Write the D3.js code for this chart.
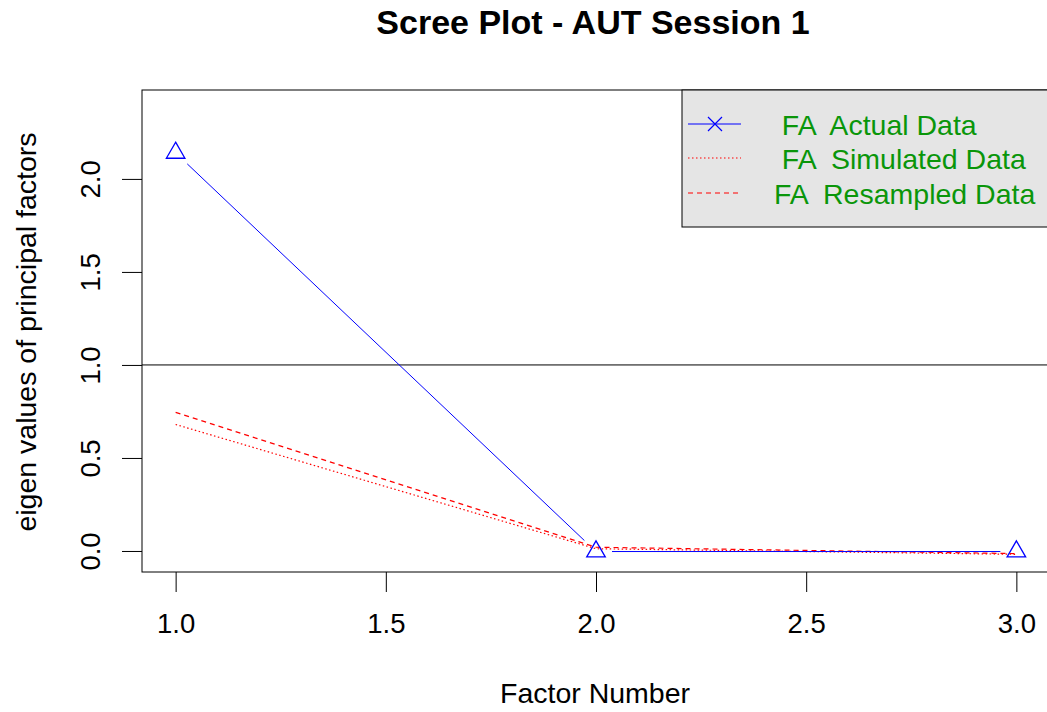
<!DOCTYPE html>
<html>
<head>
<meta charset="utf-8">
<script src="https://cdn.jsdelivr.net/npm/d3@7"></script>
<style>
  html, body { margin: 0; padding: 0; background: #fff; }
  svg { display: block; font-family: "Liberation Sans", Arial, sans-serif; }
</style>
</head>
<body>
<svg id="chart" width="1047" height="712"></svg>
<script>
// values
var factors = [1, 2, 3];
var actualData = [2.14, -0.003, -0.003];
var simulatedData = [0.68, 0.012, -0.018];
var resampledData = [0.745, 0.02, -0.014];
var xTicks = [1, 1.5, 2, 2.5, 3];
var yTicks = [0, 0.5, 1, 1.5, 2];
var legendLabels = ["  FA  Actual Data", "  FA  Simulated Data", " FA  Resampled Data"];

var svg = d3.select("#chart");
var plotL = 142, plotT = 90, plotR = 1050, plotB = 572;

var x = d3.scaleLinear().domain([0.92, 3.08]).range([plotL, plotR]);
var y = d3.scaleLinear().domain([-0.113, 2.478]).range([plotB, plotT]);

// title
svg.append("text")
  .attr("x", 593).attr("y", 34)
  .attr("text-anchor", "middle")
  .style("font-size", "34px").style("font-weight", "bold")
  .text("Scree Plot - AUT Session 1");

// axes
var xAxis = svg.append("g")
  .attr("transform", "translate(0," + plotB + ")")
  .call(d3.axisBottom(x).tickValues(xTicks).tickSize(20).tickSizeOuter(0)
    .tickFormat(d3.format(".1f")));
xAxis.select(".domain").remove();
xAxis.selectAll("text").attr("y", 61).attr("dy", 0)
  .style("font-size", "27.5px").attr("fill", "#000").attr("font-family", null);

var yAxis = svg.append("g")
  .attr("transform", "translate(" + plotL + ",0)")
  .call(d3.axisLeft(y).tickValues(yTicks).tickSize(20).tickSizeOuter(0)
    .tickFormat(d3.format(".1f")));
yAxis.select(".domain").remove();
yAxis.selectAll("text")
  .attr("transform", "rotate(-90)")
  .attr("x", 0).attr("y", -42).attr("dy", 0)
  .attr("text-anchor", "middle")
  .style("font-size", "27.5px").attr("fill", "#000").attr("font-family", null);
svg.selectAll(".tick line").attr("stroke", "#000");

// axis titles
svg.append("text")
  .attr("x", 595).attr("y", 703)
  .attr("text-anchor", "middle")
  .style("font-size", "28.5px")
  .text("Factor Number");
svg.append("text")
  .attr("transform", "translate(36,332) rotate(-90)")
  .attr("text-anchor", "middle")
  .style("font-size", "28.5px")
  .text("eigen values of principal factors");

// reference line at eigenvalue 1
svg.append("line")
  .attr("x1", plotL).attr("x2", plotR)
  .attr("y1", y(1)).attr("y2", y(1))
  .attr("stroke", "#000").attr("stroke-width", 1);

var line = d3.line()
  .x(function(d, i) { return x(factors[i]); })
  .y(function(d) { return y(d); });

svg.append("path").datum(simulatedData)
  .attr("d", line).attr("fill", "none")
  .attr("stroke", "#ff0000").attr("stroke-width", 1.2)
  .attr("stroke-dasharray", "1.5,2.5");

svg.append("path").datum(resampledData)
  .attr("d", line).attr("fill", "none")
  .attr("stroke", "#ff0000").attr("stroke-width", 1.2)
  .attr("stroke-dasharray", "5,4");

// actual data: type "b" -> segments with gaps around the points
var gap = 16;
for (var i = 0; i < factors.length - 1; i++) {
  var x0 = x(factors[i]), y0 = y(actualData[i]);
  var x1 = x(factors[i + 1]), y1 = y(actualData[i + 1]);
  var len = Math.sqrt((x1 - x0) * (x1 - x0) + (y1 - y0) * (y1 - y0));
  var ux = (x1 - x0) / len, uy = (y1 - y0) / len;
  svg.append("line")
    .attr("x1", x0 + ux * gap).attr("y1", y0 + uy * gap)
    .attr("x2", x1 - ux * gap).attr("y2", y1 - uy * gap)
    .attr("stroke", "#0000ff").attr("stroke-width", 1);
}

var r = 10.7;
svg.selectAll(".tri").data(actualData).enter().append("path")
  .attr("class", "tri")
  .attr("d", function(d, i) {
    var cx = x(factors[i]), cy = y(d), hw = r * 0.866;
    return "M" + cx + "," + (cy - r) + "L" + (cx + hw) + "," + (cy + r / 2) +
      "L" + (cx - hw) + "," + (cy + r / 2) + "Z";
  })
  .attr("fill", "none").attr("stroke", "#0000ff").attr("stroke-width", 1.3);

// plot box
svg.append("rect")
  .attr("x", plotL).attr("y", plotT)
  .attr("width", plotR - plotL).attr("height", plotB - plotT)
  .attr("fill", "none").attr("stroke", "#000").attr("stroke-width", 1);

// legend
var legend = svg.append("g");
legend.append("rect")
  .attr("x", 682).attr("y", plotT).attr("width", 400).attr("height", 137)
  .attr("fill", "#e5e5e5").attr("stroke", "#000").attr("stroke-width", 1);

var rows = [124, 158, 193];
legend.append("line").attr("x1", 688).attr("x2", 741).attr("y1", rows[0]).attr("y2", rows[0])
  .attr("stroke", "#0000ff").attr("stroke-width", 1.2);
legend.append("path")
  .attr("d", "M708,117L722,131M708,131L722,117")
  .attr("stroke", "#0000ff").attr("stroke-width", 1.2);
legend.append("line").attr("x1", 688).attr("x2", 741).attr("y1", rows[1]).attr("y2", rows[1])
  .attr("stroke", "#ff0000").attr("stroke-width", 1.2).attr("stroke-dasharray", "1.5,2.5");
legend.append("line").attr("x1", 688).attr("x2", 741).attr("y1", rows[2]).attr("y2", rows[2])
  .attr("stroke", "#ff0000").attr("stroke-width", 1.2).attr("stroke-dasharray", "5,4");

legend.selectAll(".lab").data(legendLabels).enter().append("text")
  .attr("class", "lab")
  .attr("x", 766)
  .attr("y", function(d, i) { return rows[i] + 11; })
  .attr("xml:space", "preserve")
  .style("white-space", "pre")
  .style("font-size", "28.5px")
  .attr("fill", "#0a960a")
  .text(function(d) { return d; });
</script>
</body>
</html>
